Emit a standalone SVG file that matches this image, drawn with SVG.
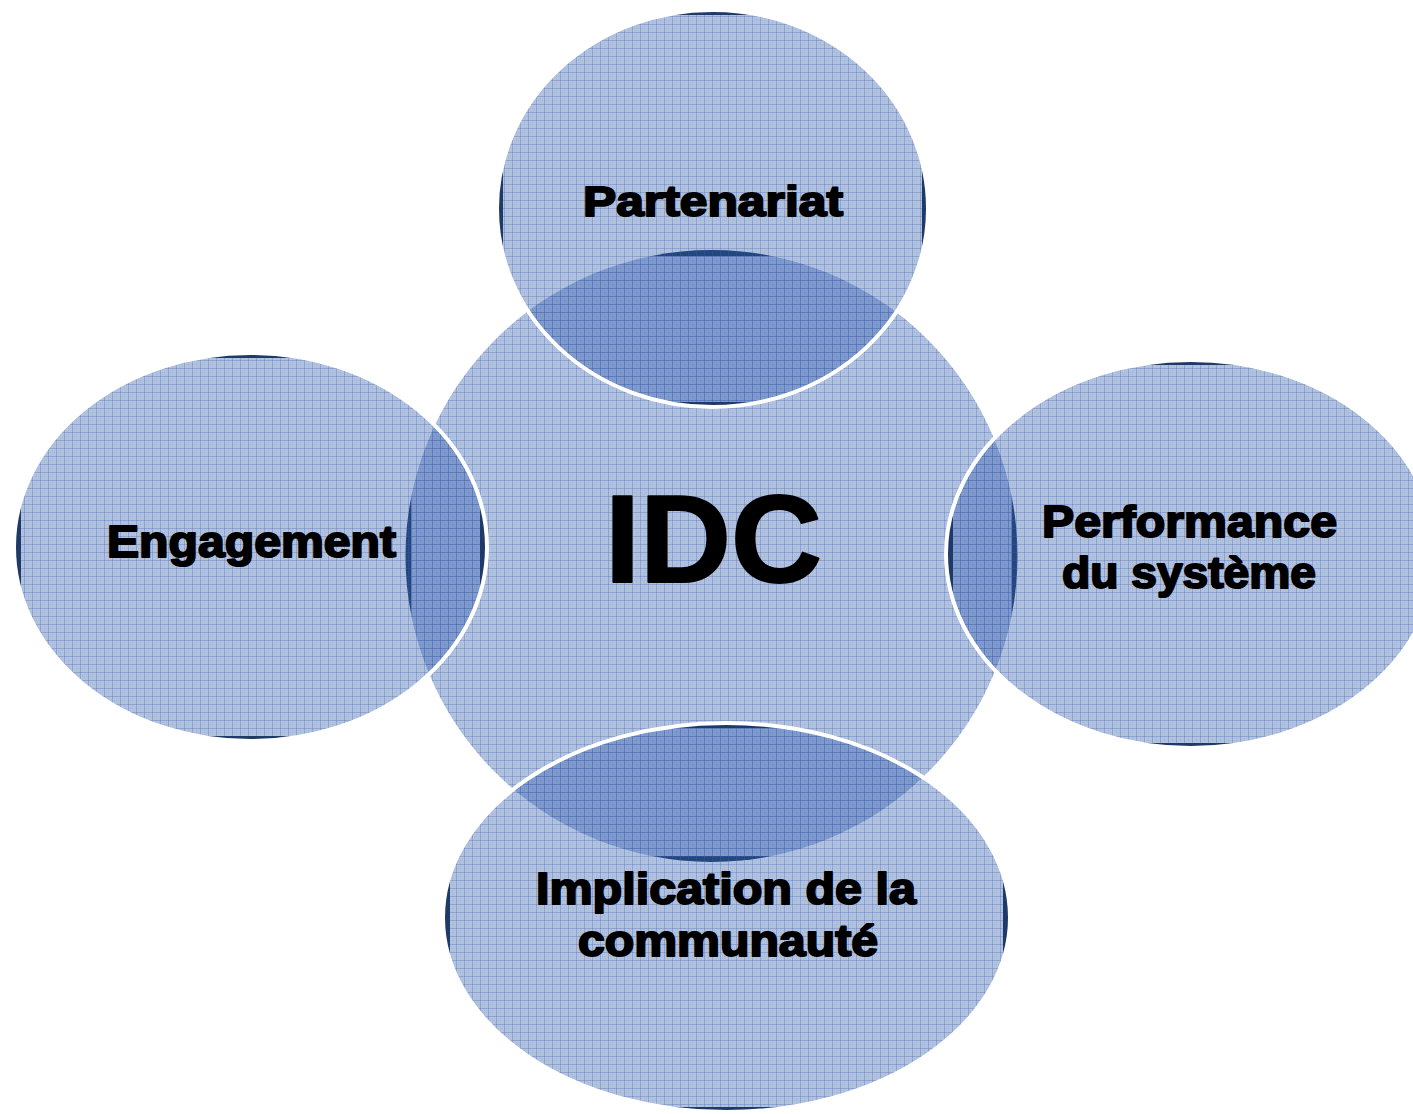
<svg xmlns="http://www.w3.org/2000/svg" width="1413" height="1114" viewBox="0 0 1413 1114">
<style>
.rim{fill:#1f3a66}
.fill{fill:url(#grid)}
.edge{fill:none;stroke:#fff;stroke-width:4}
.lbl{font-family:"Liberation Sans",Arial,sans-serif;font-weight:bold;fill:#000;stroke:#000;stroke-width:2;stroke-linejoin:round}
</style>
<defs>
<pattern id="grid" patternUnits="userSpaceOnUse" width="8" height="8">
<rect width="8" height="8" fill="#2a5aa8" fill-opacity="0.37"/>
<path d="M0 0.5H8M0.5 0V8" stroke="#4462bc" stroke-opacity="0.3" stroke-width="1"/>
<path d="M0 4.5H8M4.5 0V8" stroke="#4462bc" stroke-opacity="0.08" stroke-width="1" stroke-dasharray="1 1"/>
</pattern>
<clipPath id="inC"><rect x="411.5" y="256" width="600" height="600"/></clipPath>
<clipPath id="capC"><rect x="398" y="240" width="13.5" height="630"/><rect x="1011.5" y="240" width="13.5" height="630"/><rect x="398" y="240" width="627" height="16"/><rect x="398" y="856" width="627" height="14"/></clipPath>
<clipPath id="inT"><rect x="503" y="15" width="419" height="387"/></clipPath>
<clipPath id="capT"><rect x="490" y="0" width="13" height="420"/><rect x="922" y="0" width="13" height="420"/><rect x="490" y="0" width="445" height="15"/><rect x="490" y="402" width="445" height="15"/></clipPath>
<clipPath id="inL"><rect x="21" y="358" width="459" height="378"/></clipPath>
<clipPath id="capL"><rect x="5" y="345" width="16" height="405"/><rect x="480" y="345" width="15" height="405"/><rect x="5" y="345" width="490" height="13"/><rect x="5" y="736" width="490" height="13"/></clipPath>
<clipPath id="inR"><rect x="953" y="365" width="476" height="378"/></clipPath>
<clipPath id="capR"><rect x="938" y="352" width="15" height="405"/><rect x="1429" y="352" width="15" height="405"/><rect x="938" y="352" width="506" height="13"/><rect x="938" y="743" width="506" height="13"/></clipPath>
<clipPath id="inB"><rect x="450" y="728" width="553" height="379"/></clipPath>
<clipPath id="capB"><rect x="435" y="715" width="15" height="405"/><rect x="1003" y="715" width="15" height="405"/><rect x="435" y="715" width="583" height="13"/><rect x="435" y="1107" width="583" height="13"/></clipPath>
</defs>
<rect width="1413" height="1114" fill="#fff"/>
<g id="connectors"></g>
<g id="node-idc">
<circle class="rim" cx="711.5" cy="556" r="306" clip-path="url(#capC)"/>
<circle class="fill" cx="711.5" cy="556" r="306" clip-path="url(#inC)"/>
<text class="lbl" x="605" y="582" font-size="124" textLength="217" lengthAdjust="spacingAndGlyphs">IDC</text>
</g>
<g id="node-partenariat">
<ellipse class="rim" cx="712.5" cy="208.5" rx="215.5" ry="198.5" clip-path="url(#capT)"/>
<ellipse class="fill" cx="712.5" cy="208.5" rx="215.5" ry="198.5" clip-path="url(#inT)"/>
<ellipse class="edge" cx="712.5" cy="208.5" rx="215.5" ry="198.5"/>
<text class="lbl" x="583" y="216" font-size="43" textLength="260" lengthAdjust="spacingAndGlyphs">Partenariat</text>
</g>
<g id="node-engagement">
<ellipse class="rim" cx="250.5" cy="547" rx="236.5" ry="194" clip-path="url(#capL)"/>
<ellipse class="fill" cx="250.5" cy="547" rx="236.5" ry="194" clip-path="url(#inL)"/>
<ellipse class="edge" cx="250.5" cy="547" rx="236.5" ry="194"/>
<text class="lbl" x="107" y="557" font-size="44" textLength="289" lengthAdjust="spacingAndGlyphs">Engagement</text>
</g>
<g id="node-performance">
<ellipse class="rim" cx="1191" cy="554" rx="245" ry="194" clip-path="url(#capR)"/>
<ellipse class="fill" cx="1191" cy="554" rx="245" ry="194" clip-path="url(#inR)"/>
<ellipse class="edge" cx="1191" cy="554" rx="245" ry="194"/>
<text class="lbl" x="1042" y="537" font-size="44" textLength="295" lengthAdjust="spacingAndGlyphs">Performance</text>
<text class="lbl" x="1062" y="588" font-size="44" textLength="254" lengthAdjust="spacingAndGlyphs">du système</text>
</g>
<g id="node-implication">
<ellipse class="rim" cx="726.5" cy="917.5" rx="283.5" ry="194.5" clip-path="url(#capB)"/>
<ellipse class="fill" cx="726.5" cy="917.5" rx="283.5" ry="194.5" clip-path="url(#inB)"/>
<ellipse class="edge" cx="726.5" cy="917.5" rx="283.5" ry="194.5"/>
<text class="lbl" x="536" y="904" font-size="44" textLength="380" lengthAdjust="spacingAndGlyphs">Implication de la</text>
<text class="lbl" x="578" y="956" font-size="44" textLength="300" lengthAdjust="spacingAndGlyphs">communauté</text>
</g>
</svg>
